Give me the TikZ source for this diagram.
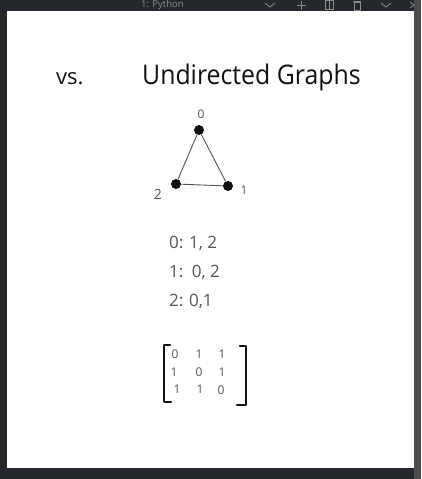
\documentclass[tikz,border=0pt]{standalone}
\usepackage{fontspec}
\setmainfont{Open Sans}
\definecolor{frame}{HTML}{24272C}
\definecolor{strip}{HTML}{4A4C50}
\definecolor{ink}{HTML}{111111}
\definecolor{pencil}{HTML}{555555}
\definecolor{bartext}{HTML}{8A8C90}
\tikzset{
  hand/.style={text=ink, inner sep=0pt, anchor=base west},
  lbl/.style={text=pencil, inner sep=0pt},
  vtx/.style={circle, fill=ink, minimum size=10pt, inner sep=0pt},
  edge/.style={draw=pencil, line width=0.9pt},
  entry/.style={text=pencil, inner sep=0pt, font=\fontsize{12}{12}\selectfont},
  brk/.style={draw=ink, line width=2.2pt, line cap=round, line join=round},
  icon/.style={draw=bartext, line width=0.8pt}
}
\begin{document}
\begin{tikzpicture}[x=1pt,y=-1pt]
  % background and page
  \fill[frame] (0,0) rectangle (421,479);
  \useasboundingbox (0,0) rectangle (421,479);
  \fill[strip] (414,0) rectangle (421,479);
  \fill[white] (7,11) rectangle (414,468);
  % top bar
  \node[text=bartext, anchor=west, inner sep=0pt, font=\fontsize{9.5}{9.5}\selectfont] (bar) at (141,5) {1: Python};
  \draw[icon] (265,3) -- (270,7) -- (275,3);
  \draw[icon] (301,0.5) -- (301,9.5) (296.5,5) -- (305.5,5);
  \draw[icon] (325.5,0.5) rectangle (333.5,9.5) (329.5,0.5) -- (329.5,9.5);
  \draw[icon] (353,1) -- (361,1) (354,2) rectangle (360,10);
  \draw[icon] (381,3) -- (386,7) -- (391,3);
  \draw[icon] (410,2) -- (414,5) -- (410,8);
  % title
  \node[hand, font=\fontsize{22}{22}\selectfont] (vs) at (56,84) {vs.};
  \node[hand, xscale=0.92, font=\fontsize{27}{27}\selectfont] (title) at (142,84) {Undirected Graphs};
  % graph
  \node[vtx] (n0) at (199,130) {};
  \node[vtx] (n1) at (228,186) {};
  \node[vtx] (n2) at (176,184) {};
  \draw[edge] (n0) -- (n1);
  \draw[edge] (n1) -- (n2);
  \draw[edge] (n2) -- (n0);
  \node[lbl, font=\fontsize{12}{12}\selectfont] (l0) at (201,114) {0};
  \node[lbl, font=\fontsize{12}{12}\selectfont] (l1) at (244,190) {1};
  \node[lbl, font=\fontsize{14}{14}\selectfont] (l2) at (158,194) {2};
  % adjacency list
  \node[lbl, anchor=base west, font=\fontsize{17}{17}\selectfont] (a0) at (169,248) {0:\,\,1, 2};
  \node[lbl, anchor=base west, font=\fontsize{17}{17}\selectfont] (a1) at (169,277) {1:\,\,\,0, 2};
  \node[lbl, anchor=base west, font=\fontsize{17}{17}\selectfont] (a2) at (169,306) {2:\,\,0,1};
  % matrix
  \draw[brk] (170,345) -- (164,345) -- (164,402) -- (171,402);
  \draw[brk] (240,346) -- (246,346) -- (246,405) -- (237,405);
  \node[entry] (m11) at (175,354) {0};
  \node[entry] (m12) at (199,354) {1};
  \node[entry] (m13) at (222,354) {1};
  \node[entry] (m21) at (174,372) {1};
  \node[entry] (m22) at (199,372) {0};
  \node[entry] (m23) at (222,372) {1};
  \node[entry] (m31) at (177,389) {1};
  \node[entry] (m32) at (200,389) {1};
  \node[entry] (m33) at (221,390) {0};
\end{tikzpicture}
\end{document}
